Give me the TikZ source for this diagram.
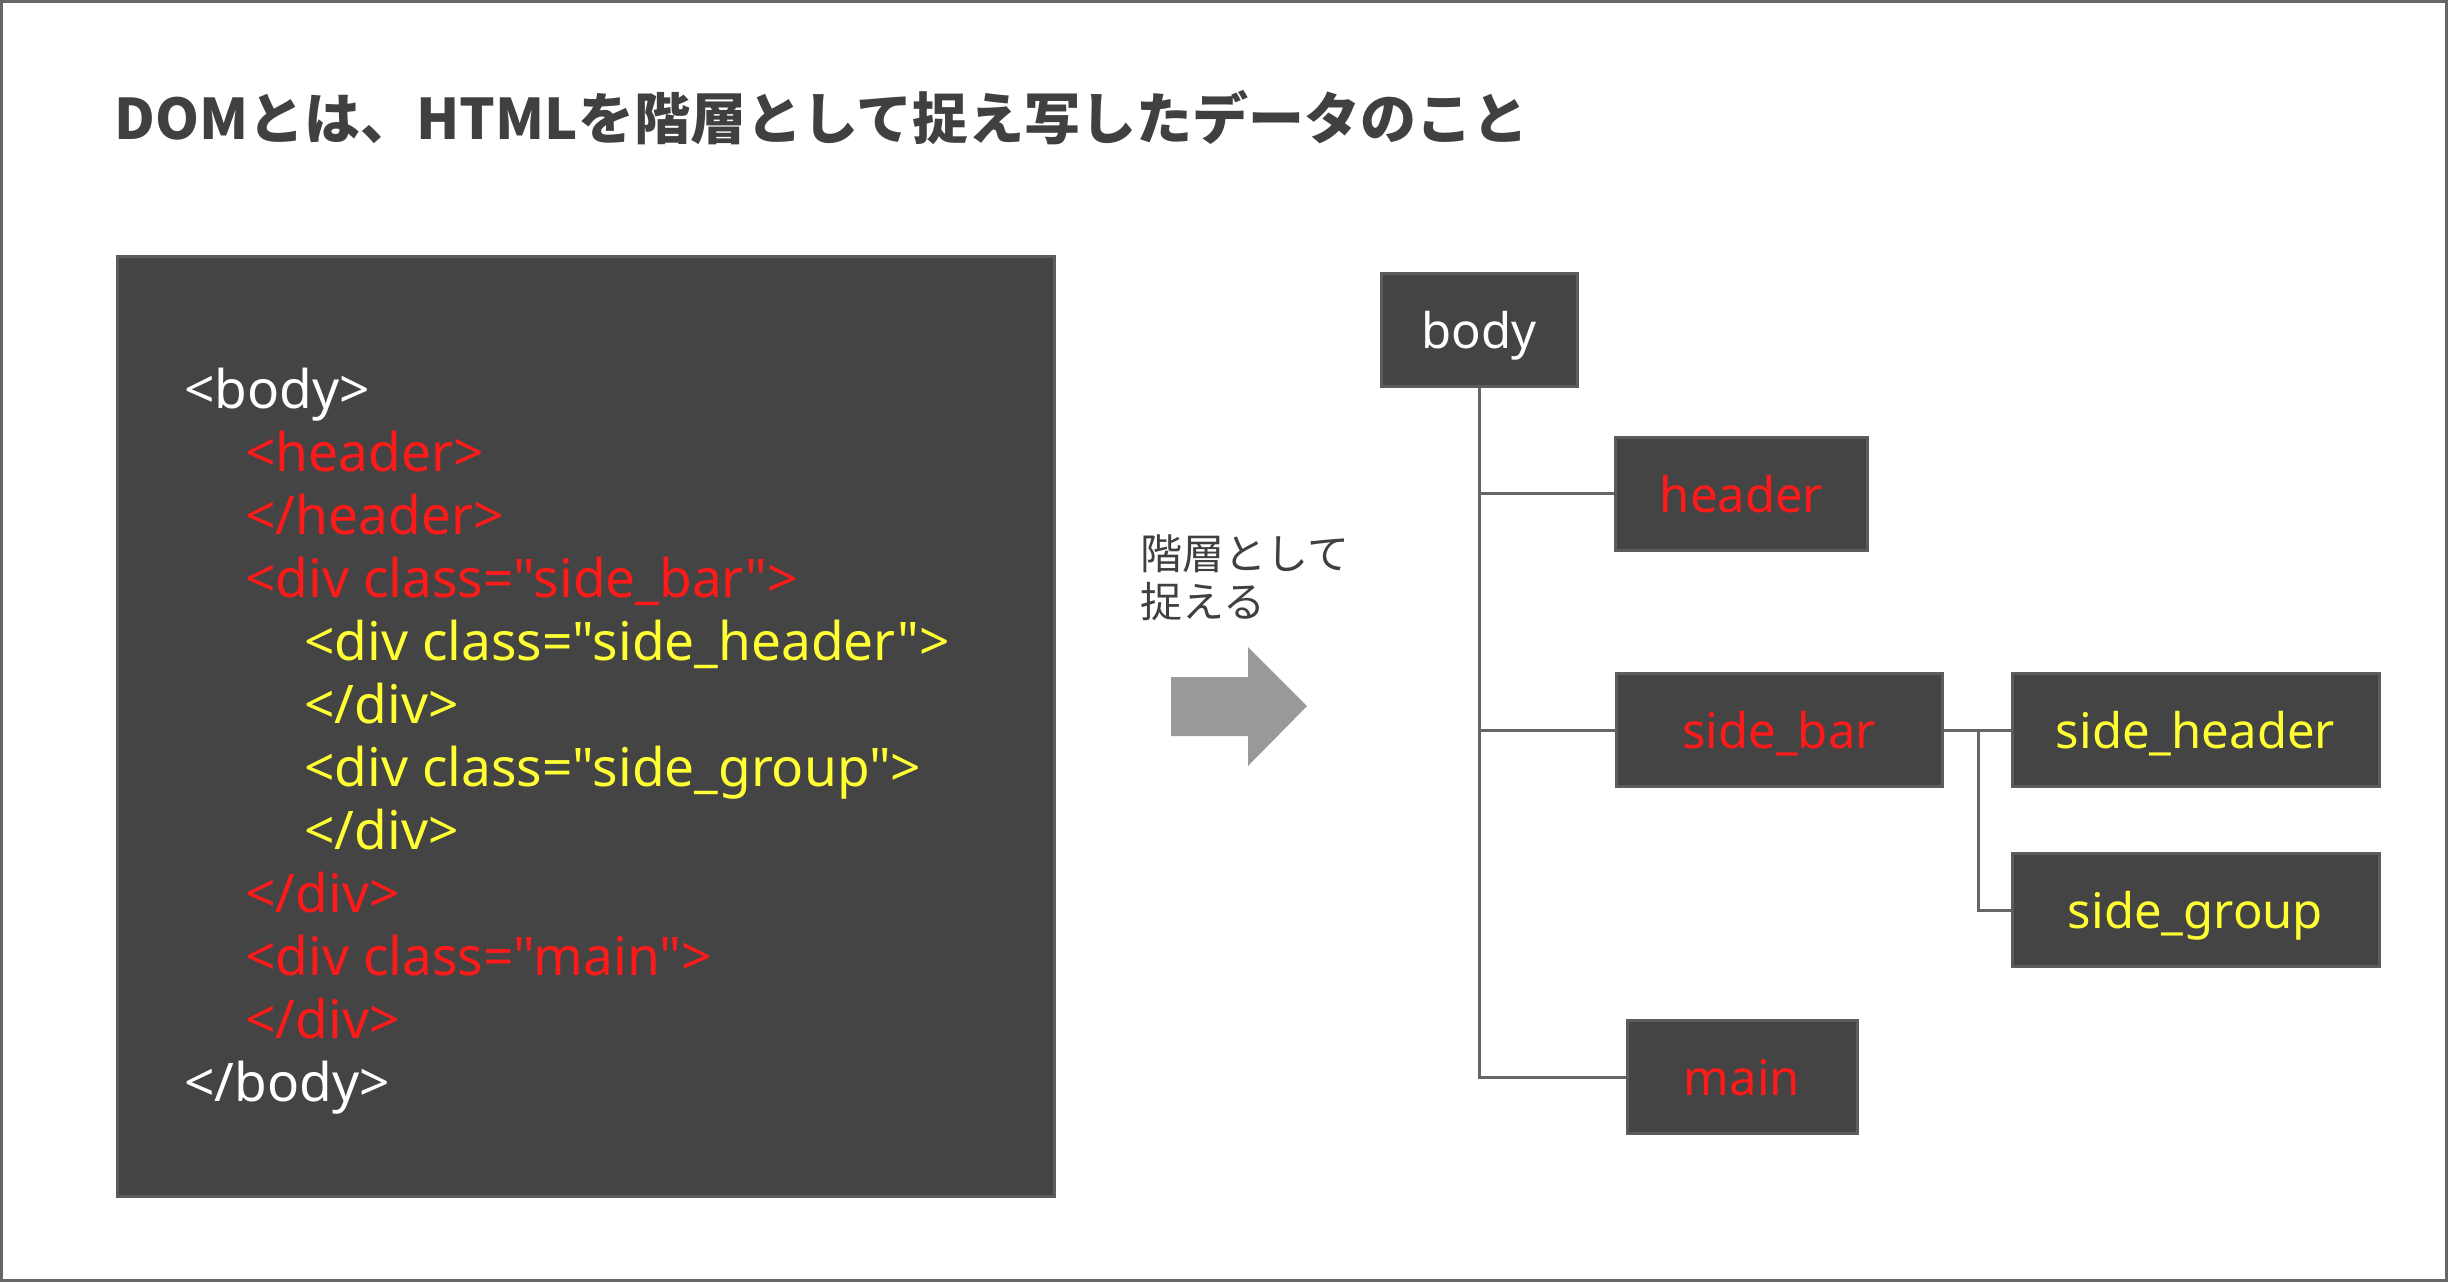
\documentclass[tikz,border=0pt]{standalone}
\usepackage{fontspec}
\newfontfamily\codefont{Noto Sans}
\newfontfamily\jp{Noto Sans CJK JP}
\newcommand\dq{\symbol{34}}
\definecolor{framegray}{HTML}{666666}
\definecolor{boxfill}{HTML}{444444}
\definecolor{boxline}{HTML}{5C5C5C}
\definecolor{linegray}{HTML}{666666}
\definecolor{htmlred}{HTML}{FF1A1A}
\definecolor{htmlyellow}{HTML}{FFFF33}
\definecolor{arrowgray}{HTML}{999999}
\definecolor{titlegray}{HTML}{404040}
\begin{document}
\begin{tikzpicture}[x=0.5pt,y=-0.5pt,
  code/.style={anchor=base west, inner sep=0pt, font=\codefont\fontsize{26.6pt}{30pt}\selectfont},
  treebox/.style={draw=boxline, fill=boxfill, line width=1.5pt, inner sep=0pt,
    minimum height=56.5pt, text depth=0pt, font=\codefont\fontsize{24.5pt}{28pt}\selectfont},
  conn/.style={draw=linegray, line width=1.5pt}]
\useasboundingbox (0,0) rectangle (2448,1282);
\draw[framegray, line width=1.5pt] (1.5,1.5) rectangle (2446.5,1280.5);

\node[anchor=west, inner sep=0pt, text=titlegray, font=\jp\bfseries\fontsize{28pt}{32pt}\selectfont] (title) at (114,118) {DOMとは、HTMLを階層として捉え写したデータのこと};

\draw[draw=boxline, fill=boxfill, line width=1.5pt] (117,256) rectangle (1054,1196);

\node[code, text=white] (l1) at (184,408) {<body>};
\node[code, text=htmlred] (l2) at (245,471) {<header>};
\node[code, text=htmlred] (l3) at (245,534) {</header>};
\node[code, text=htmlred] (l4) at (245,597) {<div class=\dq side\_bar\dq>};
\node[code, text=htmlyellow] (l5) at (304,660) {<div class=\dq side\_header\dq>};
\node[code, text=htmlyellow] (l6) at (304,723) {</div>};
\node[code, text=htmlyellow] (l7) at (304,786) {<div class=\dq side\_group\dq>};
\node[code, text=htmlyellow] (l8) at (304,849) {</div>};
\node[code, text=htmlred] (l9) at (245,912) {</div>};
\node[code, text=htmlred] (l10) at (245,975) {<div class=\dq main\dq>};
\node[code, text=htmlred] (l11) at (245,1038) {</div>};
\node[code, text=white] (l12) at (184,1101) {</body>};

\node[anchor=west, inner sep=0pt, text=titlegray, align=left, font=\jp\fontsize{21pt}{24pt}\selectfont] (lbl) at (1140,578) {階層として\\捉える};
\fill[arrowgray] (1171,677) -- (1248,677) -- (1248,647) -- (1307,706) -- (1248,766) -- (1248,736) -- (1171,736) -- cycle;

\node[treebox, text=white, minimum width=98pt] (body) at (1479,330) {body};
\node[treebox, text=htmlred, minimum width=126pt] (header) at (1741.5,493.5) {header};
\node[treebox, text=htmlred, minimum width=163pt] (sidebar) at (1779,730) {side\_bar};
\node[treebox, text=htmlyellow, minimum width=183.5pt] (sideheader) at (2195.5,730) {side\_header};
\node[treebox, text=htmlyellow, minimum width=183.5pt] (sidegroup) at (2195.5,910) {side\_group};
\node[treebox, text=htmlred, minimum width=115pt] (main) at (1742,1077) {main};

\coordinate (br) at (1978,730);
\draw[conn] (body.south) |- (main.west);
\draw[conn] (body.south) |- (header.west);
\draw[conn] (body.south) |- (sidebar.west);
\draw[conn] (sidebar.east) -- (sideheader.west);
\draw[conn] (br) |- (sidegroup.west);
\end{tikzpicture}
\end{document}
